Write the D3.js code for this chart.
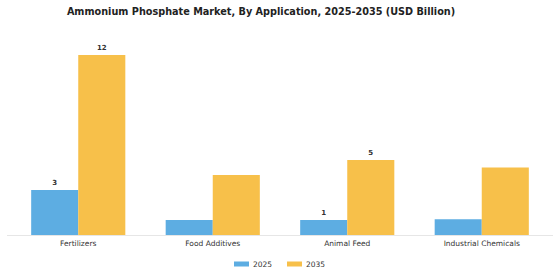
<!DOCTYPE html>
<html>
<head>
<meta charset="utf-8">
<script src="https://cdn.jsdelivr.net/npm/d3@7"></script>
<style>
  body { margin: 0; background: #fff; }
  text { font-family: "DejaVu Sans", sans-serif; }
</style>
</head>
<body>
<div id="chart"></div>
<script>
// data
var categories = ["Fertilizers", "Food Additives", "Animal Feed", "Industrial Chemicals"];
var years = ["2025", "2035"];
var values2025 = [3.0, 1.0, 1.0, 1.05];
var values2035 = [12.0, 4.0, 5.0, 4.5];
// only some bars carry a value label in the original
var labels2025 = ["3", null, "1", null];
var labels2035 = ["12", null, "5", null];
var colors = ["#5DADE2", "#F7C04A"];

var width = 560, height = 280;
var margin = { top: 20, right: 11, bottom: 45, left: 11 };

var svg = d3.select("#chart").append("svg")
    .attr("width", width)
    .attr("height", height);

svg.append("text")
    .attr("x", 261)
    .attr("y", 15)
    .attr("text-anchor", "middle")
    .style("font-size", "9.7px")
    .style("font-weight", "bold")
    .attr("fill", "#222")
    .text("Ammonium Phosphate Market, By Application, 2025-2035 (USD Billion)");

var rows = categories.map(function (c, i) {
    return { cat: c, vals: [values2025[i], values2035[i]], labels: [labels2025[i], labels2035[i]] };
});

var x = d3.scaleBand().domain(categories).range([margin.left, width - margin.right]).paddingInner(0.3).paddingOuter(0.15);
var x1 = d3.scaleBand().domain(years).range([0, x.bandwidth()]);
var baseY = 235;
var y = d3.scaleLinear().domain([0, 12]).range([baseY, 55]);

// baseline
svg.append("line")
    .attr("x1", 7).attr("x2", 553)
    .attr("y1", baseY + 0.5).attr("y2", baseY + 0.5)
    .attr("stroke", "#e6e6e6");

var g = svg.selectAll(".grp").data(rows).enter().append("g")
    .attr("class", "grp")
    .attr("transform", function (d) { return "translate(" + x(d.cat) + ",0)"; });

g.selectAll("rect")
    .data(function (d) { return d.vals.map(function (v, j) { return { v: v, yr: years[j], j: j, lab: d.labels[j] }; }); })
    .enter().append("rect")
    .attr("x", function (d) { return x1(d.yr); })
    .attr("y", function (d) { return y(d.v); })
    .attr("width", x1.bandwidth())
    .attr("height", function (d) { return baseY - y(d.v); })
    .attr("fill", function (d) { return colors[d.j]; });

g.selectAll(".val")
    .data(function (d) { return d.vals.map(function (v, j) { return { v: v, yr: years[j], lab: d.labels[j] }; }).filter(function (e) { return e.lab; }); })
    .enter().append("text")
    .attr("class", "val")
    .attr("x", function (d) { return x1(d.yr) + x1.bandwidth() / 2; })
    .attr("y", function (d) { return y(d.v) - 5; })
    .attr("text-anchor", "middle")
    .style("font-size", "7px")
    .style("font-weight", "bold")
    .attr("fill", "#333")
    .text(function (d) { return d.lab; });

// category labels
svg.append("g")
    .attr("transform", "translate(0," + baseY + ")")
    .call(d3.axisBottom(x).tickSize(0).tickPadding(6))
    .call(function (a) { a.select(".domain").remove(); })
    .selectAll("text")
    .style("font-family", "DejaVu Sans, sans-serif")
    .style("font-size", "7.5px")
    .attr("fill", "#333");

// legend
var legX = [234, 287];
var leg = svg.selectAll(".leg").data(years).enter().append("g")
    .attr("class", "leg")
    .attr("transform", function (d, i) { return "translate(" + legX[i] + ",264)"; });
leg.append("rect")
    .attr("x", 0).attr("y", -2.5)
    .attr("width", 15).attr("height", 5)
    .attr("fill", function (d, i) { return colors[i]; });
leg.append("text")
    .attr("x", 19).attr("y", 3)
    .style("font-size", "7.5px")
    .attr("fill", "#333")
    .text(function (d) { return d; });
</script>
</body>
</html>
